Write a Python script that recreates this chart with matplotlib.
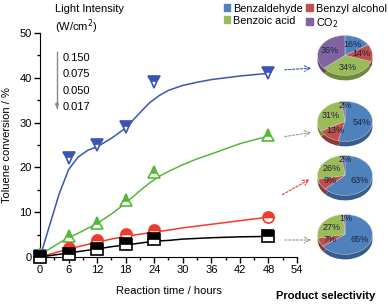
import matplotlib
matplotlib.use("Agg")
import matplotlib.pyplot as plt
from matplotlib.patches import Patch
from matplotlib.ticker import MultipleLocator

plt.rcParams["font.family"] = ["Liberation Sans", "DejaVu Sans"]

W, H = 389, 305

BLUE = "#3a55b4"
GREEN = "#55b83a"
RED = "#f03a30"
BLACK = "#000000"

PIE_BLUE = "#4f81bd"
PIE_RED = "#c0504d"
PIE_GREEN = "#9bbb59"
PIE_PURPLE = "#8064a2"

# measured points
t = [0, 6, 12, 18, 24, 48]
conv_150 = [0.3, 22, 25, 29, 39, 41]
conv_075 = [0.6, 4.6, 7.5, 12.8, 19, 27.3]
conv_050 = [0.2, 2.0, 3.8, 5.1, 6.0, 9.0]
conv_017 = [0.1, 0.6, 1.8, 2.9, 4.0, 4.6]

# fitted curves
t_fit = [0, 2, 4, 6, 8, 10, 12, 15, 18, 21, 23, 25, 27, 30, 33, 36, 42, 48]
fit_150 = [0, 7, 14, 19.5, 22.3, 23.8, 24.6, 26.5, 28.8, 32.2, 34.4, 36.0, 37.2, 38.3, 39.0, 39.6, 40.4, 41]
fit_075 = [0.5, 1.8, 3.1, 4.3, 5.3, 6.4, 7.5, 9.6, 12, 14.8, 16.5, 18.0, 19.1, 20.6, 21.9, 23, 25.3, 27]
fit_050 = [0, 0.6, 1.2, 1.8, 2.3, 2.8, 3.3, 4.0, 4.6, 5.1, 5.4, 5.7, 6.0, 6.5, 6.9, 7.3, 8.1, 8.9]
fit_017 = [0, 0.3, 0.6, 0.9, 1.2, 1.5, 1.8, 2.3, 2.7, 3.1, 3.4, 3.6, 3.7, 4.0, 4.15, 4.3, 4.5, 4.6]

intensities = ["0.150", "0.075", "0.050", "0.017"]

products = ["Benzaldehyde", "Benzyl alcohol", "Benzoic acid", "CO$_2$"]
pie_150 = [16, 14, 34, 36]
pie_075 = [54, 13, 31, 2]
pie_050 = [63, 9, 26, 2]
pie_017 = [65, 7, 27, 1]


def fx(x):
    return x / W


def fy(y):
    return 1 - y / H


fig = plt.figure(figsize=(W / 100, H / 100), dpi=100)
ax = fig.add_axes([fx(40), fy(257), fx(297) - fx(40), fy(33) - fy(257)])

series = [
    (fit_150, conv_150, BLUE, "v"),
    (fit_075, conv_075, GREEN, "^"),
    (fit_050, conv_050, RED, "o"),
    (fit_017, conv_017, BLACK, "s"),
]
for fit, conv, col, mk in series:
    ax.plot(t_fit, fit, color=col, lw=1.1, zorder=2)
    ax.plot(t, conv, ls="none", marker=mk, ms=8, color=col, mec=col, mew=1.2,
            fillstyle="top", markerfacecoloralt="white", clip_on=False, zorder=3)

ax.set_xlim(0, 54)
ax.set_ylim(0, 50)
ax.xaxis.set_major_locator(MultipleLocator(6))
ax.xaxis.set_minor_locator(MultipleLocator(3))
ax.yaxis.set_major_locator(MultipleLocator(10))
ax.yaxis.set_minor_locator(MultipleLocator(5))
ax.spines["top"].set_visible(False)
ax.spines["right"].set_visible(False)
ax.tick_params(which="major", direction="out", length=4, width=1, labelsize=8, pad=2)
ax.tick_params(which="minor", direction="out", length=2.5, width=1)
ax.set_xlabel("Reaction time / hours", fontsize=8, labelpad=8)
ax.set_ylabel("Toluene conversion / %", fontsize=8, labelpad=5)

# light intensity annotation
fig.text(fx(55), fy(9), "Light Intensity", fontsize=8, va="center")
fig.text(fx(55), fy(27), "(W/cm$^2$)", fontsize=8, va="center")
fig.add_artist(plt.Line2D([fx(57), fx(57)], [fy(52), fy(108)], color="#888888", lw=1))
ax.annotate("", xy=(fx(57), fy(111)), xytext=(fx(57), fy(100)), xycoords="figure fraction",
            arrowprops=dict(arrowstyle="-|>", color="#888888", lw=1, mutation_scale=5))
for i, lab in enumerate(intensities):
    fig.text(fx(63), fy(58 + 16.3 * i), lab, fontsize=8, va="center")

# arrows to pies
arrows = [
    ((282, 70), (314, 68), BLUE),
    ((282, 137), (314, 132), "#999999"),
    ((280, 196), (312, 178), RED),
    ((282, 240), (314, 240), "#999999"),
]
for (x0, y0), (x1, y1), col in arrows:
    ax.annotate("", xy=(fx(x1), fy(y1)), xytext=(fx(x0), fy(y0)), xycoords="figure fraction",
                arrowprops=dict(arrowstyle="->", color=col, lw=0.8, ls=(0, (2, 1.5))))

# pies
pie_cols = [PIE_BLUE, PIE_RED, PIE_GREEN, PIE_PURPLE]
dark_cols = ["#385d8a", "#8c3836", "#71893f", "#5c4776"]
pie_centres = [(345, 58), (345, 124), (345, 178), (345, 237)]
for vals, (cx, cy) in zip([pie_150, pie_075, pie_050, pie_017], pie_centres):
    pw, ph = 56, 46
    pax = fig.add_axes([fx(cx - pw / 2), fy(cy + ph / 2), pw / W, ph / H])
    pax.pie(vals, colors=dark_cols, startangle=90, counterclock=False, center=(0, -0.25),
            wedgeprops=dict(lw=0))
    _, _, pct = pax.pie(vals, colors=pie_cols, startangle=90, counterclock=False, autopct="%.0f%%",
                        pctdistance=0.6, wedgeprops=dict(lw=0.3, edgecolor="#dddddd"),
                        textprops=dict(fontsize=6.5, color="#1a2440"))
    for txt, v in zip(pct, vals):
        if v <= 3:
            x, y = txt.get_position()
            txt.set_position((x + 0.05, 0.78))
    pax.set_aspect("auto")
    pax.set_xlim(-1.02, 1.02)
    pax.set_ylim(-1.28, 1.02)

fig.legend([Patch(color=PIE_BLUE), Patch(color=PIE_GREEN), Patch(color=PIE_RED), Patch(color=PIE_PURPLE)],
           [products[0], products[2], products[1], products[3]],
           ncol=2, loc="upper left", bbox_to_anchor=(fx(216), fy(-4)), frameon=False,
           fontsize=7.8, handlelength=0.6, handleheight=0.6, handletextpad=0.3,
           columnspacing=0.3, labelspacing=0.2, borderpad=0.2)

fig.text(fx(326), fy(296), "Product selectivity", fontsize=8, fontweight="bold",
         ha="center", va="center")

fig.savefig("out.png", dpi=100, facecolor="white")
